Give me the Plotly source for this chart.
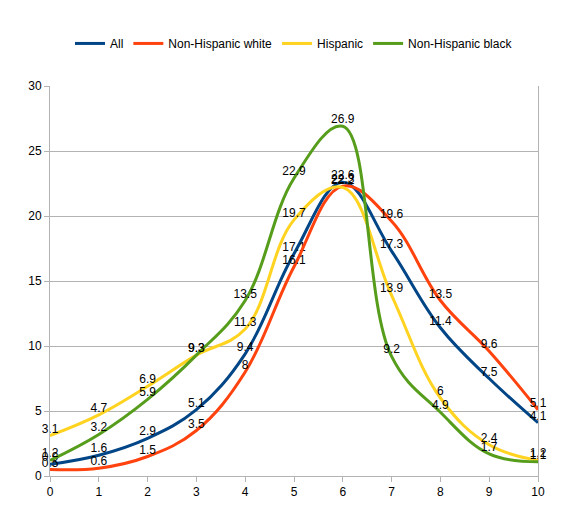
import plotly.graph_objects as go

x_vals = [0, 1, 2, 3, 4, 5, 6, 7, 8, 9, 10]
all_vals = [0.9, 1.6, 2.9, 5.1, 9.4, 17.1, 22.6, 17.3, 11.4, 7.5, 4.1]
nhw_vals = [0.5, 0.6, 1.5, 3.5, 8, 16.1, 22.3, 19.6, 13.5, 9.6, 5.1]
hisp_vals = [3.1, 4.7, 6.9, 9.3, 11.3, 19.7, 22.2, 13.9, 6, 2.4, 1.2]
nhb_vals = [1.2, 3.2, 5.9, 9.3, 13.5, 22.9, 26.9, 9.2, 4.9, 1.7, 1.1]

series = [
    ("All", all_vals, "#004586"),
    ("Non-Hispanic white", nhw_vals, "#ff420e"),
    ("Hispanic", hisp_vals, "#ffd320"),
    ("Non-Hispanic black", nhb_vals, "#579d1c"),
]

fig = go.Figure()
for name, vals, color in series:
    fig.add_trace(go.Scatter(
        x=x_vals, y=vals, name=name, mode="lines+text",
        text=[f"{v:g}" for v in vals], textposition="top center",
        textfont=dict(size=12, color="black", family="Liberation Sans, Arial"),
        line=dict(color=color, width=3, shape="spline", smoothing=1.1),
        cliponaxis=False,
    ))

fig.update_layout(
    width=567, height=529,
    margin=dict(l=42, r=37, t=78, b=61),
    paper_bgcolor="white", plot_bgcolor="white",
    font=dict(family="Liberation Sans, Arial", size=12, color="black"),
    legend=dict(orientation="h", x=0.5, xanchor="center", y=0.933, yanchor="middle",
                yref="container", itemwidth=30, font=dict(size=12),
                traceorder="normal", tracegroupgap=0),
    showlegend=True,
)
fig.update_xaxes(range=[0, 10], tickmode="linear", dtick=1, showgrid=False,
                 showline=True, linecolor="#b3b3b3", linewidth=1,
                 ticks="outside", ticklen=5, tickcolor="#b3b3b3", zeroline=False)
fig.update_yaxes(range=[0, 30], tickmode="linear", dtick=5, showgrid=True,
                 gridcolor="#b3b3b3", gridwidth=1,
                 showline=True, mirror=True, linecolor="#b3b3b3", linewidth=1,
                 ticks="outside", ticklen=5, tickcolor="#b3b3b3", zeroline=False)

fig.write_html("out.html")
